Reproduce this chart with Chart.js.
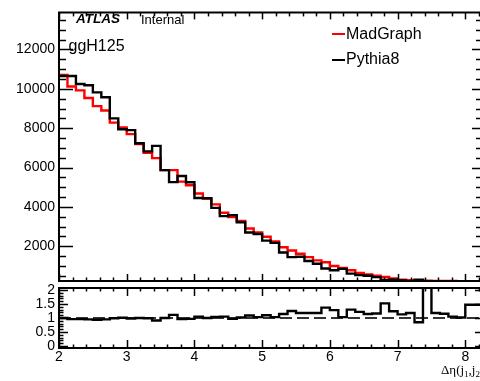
<!DOCTYPE html>
<html>
<head>
<meta charset="utf-8">
<script src="https://cdn.jsdelivr.net/npm/chart.js@4.4.1/dist/chart.umd.min.js"></script>
<style>
  html, body { margin: 0; padding: 0; background: #fff; overflow: hidden; width: 480px; height: 381px; }
  canvas { position: absolute; left: 0; top: 0; }
  .txt { position: absolute; white-space: nowrap; line-height: 1; color: #000;
         font-family: "Liberation Sans", Arial, Helvetica, sans-serif; }
  .key { position: absolute; height: 2px; width: 13px; }
  #xtitle { font-family: "Liberation Serif", "Times New Roman", serif; font-size: 13px; }
  #xtitle sub { font-size: 9px; vertical-align: -3px; line-height: 0; }
</style>
</head>
<body>
<canvas id="main" width="480" height="381"></canvas>
<canvas id="ratio" width="480" height="381"></canvas>

<div class="txt" style="left:76px; top:12.2px; font-size:13.5px; font-weight:bold; font-style:italic;">ATLAS</div>
<div class="txt" style="left:141px; top:12.5px; font-size:13px;">Internal</div>
<div class="txt" style="left:68.5px; top:38px; font-size:16px;">ggH125</div>

<div class="key" style="left:332px; top:32.5px; background:#ff0000;"></div>
<div class="txt" style="left:346px; top:26.3px; font-size:16px;">MadGraph</div>
<div class="key" style="left:332px; top:58.5px; background:#000;"></div>
<div class="txt" style="left:346px; top:51.3px; font-size:16px;">Pythia8</div>

<div class="txt" id="xtitle" style="left:441px; top:363px;">Δη(j<sub>1</sub>,j<sub>2</sub>)</div>

<script>
// Histogram binning: 0.125 wide bins starting at Δη = 2
const binLow = 2.0;
const binWidth = 0.125;

// Event counts per bin
const madgraph = [
  10700, 10120, 9920, 9535, 9120, 8900, 8285, 8035, 7700, 7200,
  6750, 6480, 5870, 5870, 5285, 5100, 4680, 4420, 4130, 3700,
  3490, 3285, 2900, 2700, 2485, 2250, 1950, 1785, 1620, 1450,
  1285, 1190, 1000, 900, 785, 650, 570, 500, 440, 370,
  300, 270, 250, 245, 240, 235, 232, 230, 228, 225
];
const pythia8 = [
  10650, 10650, 10250, 10185, 9820, 9570, 8500, 7950, 7900, 7235,
  6820, 7100, 5870, 5260, 5570, 5250, 4450, 4440, 3950, 3530,
  3585, 3220, 2700, 2620, 2285, 2170, 1680, 1450, 1470, 1250,
  1110, 870, 780, 850, 610, 535, 500, 430, 290, 300,
  265, 230, 295, 95, 203, 205, 220, 225, 155, 153
];
// MadGraph / Pythia8 per bin
const ratio = [
  1.00, 0.96, 0.96, 0.95, 0.94, 0.95, 0.99, 1.01, 0.98, 1.00,
  0.99, 0.91, 1.00, 1.11, 0.96, 0.97, 1.05, 1.00, 1.04, 1.05,
  0.97, 1.02, 1.09, 1.03, 1.10, 1.03, 1.14, 1.25, 1.18, 1.18,
  1.18, 1.37, 1.28, 1.03, 1.30, 1.22, 1.14, 1.16, 1.52, 1.24,
  1.13, 1.18, 0.85, 2.50, 1.18, 1.15, 1.05, 1.02, 1.47, 1.47
];

// Axis ranges and labelled ticks
const xRange = [2, 8.217];
const xTickLabels = [2, 3, 4, 5, 6, 7, 8];
const yRangeMain = [235, 13885];
const yTickLabelsMain = [2000, 4000, 6000, 8000, 10000, 12000];
const yRangeRatio = [-0.07, 2.07];
const yTickLabelsRatio = [0, 0.5, 1, 1.5, 2];

const tickFont = { family: "'Liberation Sans', Arial, Helvetica, sans-serif", size: 14 };

// Step-histogram vertices: each bin's low edge, plus the closing high edge
function stepPoints(values) {
  const pts = values.map((v, i) => ({ x: binLow + i * binWidth, y: v }));
  pts.push({ x: binLow + values.length * binWidth, y: values[values.length - 1] });
  return pts;
}

function multiples(min, max, step) {
  const out = [];
  const k0 = Math.ceil(min / step - 1e-9), k1 = Math.floor(max / step + 1e-9);
  for (let k = k0; k <= k1; k++) out.push(+(k * step).toFixed(6));
  return out;
}
function isMultiple(v, step) {
  const r = v / step;
  return Math.abs(r - Math.round(r)) < 1e-6;
}

// ROOT-style frame with inward-pointing major/minor ticks on all sides
function frameTicks(cfg) {
  return {
    id: 'frameTicks',
    afterDatasetsDraw(chart) {
      const { ctx, chartArea: a, scales: { x, y } } = chart;
      ctx.save();
      ctx.strokeStyle = '#000';
      ctx.lineCap = 'butt';
      const seg = (x1, y1, x2, y2) => { ctx.beginPath(); ctx.moveTo(x1, y1); ctx.lineTo(x2, y2); ctx.stroke(); };

      ctx.lineWidth = 1.5;
      multiples(x.min, x.max, cfg.xMinor).forEach(v => {
        const px = Math.round(x.getPixelForValue(v)) + 0.5;
        const major = isMultiple(v, cfg.xMajor);
        seg(px, a.bottom, px, a.bottom - (major ? cfg.bottomMajor : cfg.bottomMinor));
        seg(px, a.top, px, a.top + (major ? cfg.topMajor : cfg.topMinor));
      });
      multiples(y.min, y.max, cfg.yMinor).forEach(v => {
        const py = Math.round(y.getPixelForValue(v)) + 0.5;
        const major = isMultiple(v, cfg.yMajor);
        seg(a.left, py, a.left + (major ? cfg.leftMajor : cfg.leftMinor), py);
        const r = major ? cfg.rightMajor : cfg.rightMinor;
        if (r > 0) seg(a.right, py, a.right - r, py);
      });

      ctx.lineWidth = 2;
      seg(a.left, a.top, a.left, a.bottom);
      seg(a.left - 1, a.top, a.right, a.top);
      seg(a.left - 1, a.bottom, a.right, a.bottom);
      ctx.restore();
    }
  };
}

const fixTicks = list => scale => { scale.ticks = list.map(v => ({ value: v })); };
const plainLabel = v => String(v);

new Chart(document.getElementById('main'), {
  type: 'line',
  data: {
    datasets: [
      { label: 'Pythia8', data: stepPoints(pythia8), borderColor: '#000000', borderWidth: 2.4,
        stepped: true, pointRadius: 0, fill: false, order: 0 },
      { label: 'MadGraph', data: stepPoints(madgraph), borderColor: '#ff0000', borderWidth: 2.4,
        stepped: true, pointRadius: 0, fill: false, order: 1 }
    ]
  },
  options: {
    responsive: false, animation: false, devicePixelRatio: 1,
    layout: { padding: { left: 0, right: 0, top: 8, bottom: 100 } },
    plugins: { legend: { display: false }, tooltip: { enabled: false } },
    scales: {
      x: { type: 'linear', min: xRange[0], max: xRange[1], display: false },
      y: {
        type: 'linear', min: yRangeMain[0], max: yRangeMain[1],
        afterFit: s => { s.width = 59; },
        afterBuildTicks: fixTicks(yTickLabelsMain),
        grid: { display: false, drawTicks: false }, border: { display: false },
        ticks: { font: tickFont, color: '#000', padding: 4, autoSkip: false, callback: plainLabel }
      }
    }
  },
  plugins: [frameTicks({
    xMinor: 0.2, xMajor: 1, yMinor: 500, yMajor: 2000,
    leftMajor: 14, leftMinor: 7, rightMajor: 8, rightMinor: 4,
    bottomMajor: 7, bottomMinor: 3.5, topMajor: 7, topMinor: 4
  })]
});

new Chart(document.getElementById('ratio'), {
  type: 'line',
  data: {
    datasets: [
      { label: 'MadGraph/Pythia8', data: stepPoints(ratio), borderColor: '#000000', borderWidth: 2.4,
        stepped: true, pointRadius: 0, fill: false, order: 0 },
      { label: 'unity', data: [{ x: xRange[0], y: 1 }, { x: xRange[1], y: 1 }], borderColor: '#333333',
        borderWidth: 2, borderDash: [12, 5], pointRadius: 0, fill: false, order: 1 }
    ]
  },
  options: {
    responsive: false, animation: false, devicePixelRatio: 1,
    layout: { padding: { left: 0, right: 0, top: 288, bottom: 0 } },
    plugins: { legend: { display: false }, tooltip: { enabled: false } },
    scales: {
      x: {
        type: 'linear', min: xRange[0], max: xRange[1],
        afterFit: s => { s.height = 33; },
        afterBuildTicks: fixTicks(xTickLabels),
        grid: { display: false, drawTicks: false }, border: { display: false },
        ticks: { font: tickFont, color: '#000', padding: 1, maxRotation: 0, autoSkip: false, callback: plainLabel }
      },
      y: {
        type: 'linear', min: yRangeRatio[0], max: yRangeRatio[1],
        afterFit: s => { s.width = 59; },
        afterBuildTicks: fixTicks(yTickLabelsRatio),
        grid: { display: false, drawTicks: false }, border: { display: false },
        ticks: { font: tickFont, color: '#000', padding: 4, autoSkip: false, callback: plainLabel }
      }
    }
  },
  plugins: [frameTicks({
    xMinor: 0.2, xMajor: 1, yMinor: 0.1, yMajor: 0.5,
    leftMajor: 9, leftMinor: 4.5, rightMajor: 5, rightMinor: 0,
    bottomMajor: 8, bottomMinor: 3.5, topMajor: 8, topMinor: 3.5
  })]
});
</script>
</body>
</html>
